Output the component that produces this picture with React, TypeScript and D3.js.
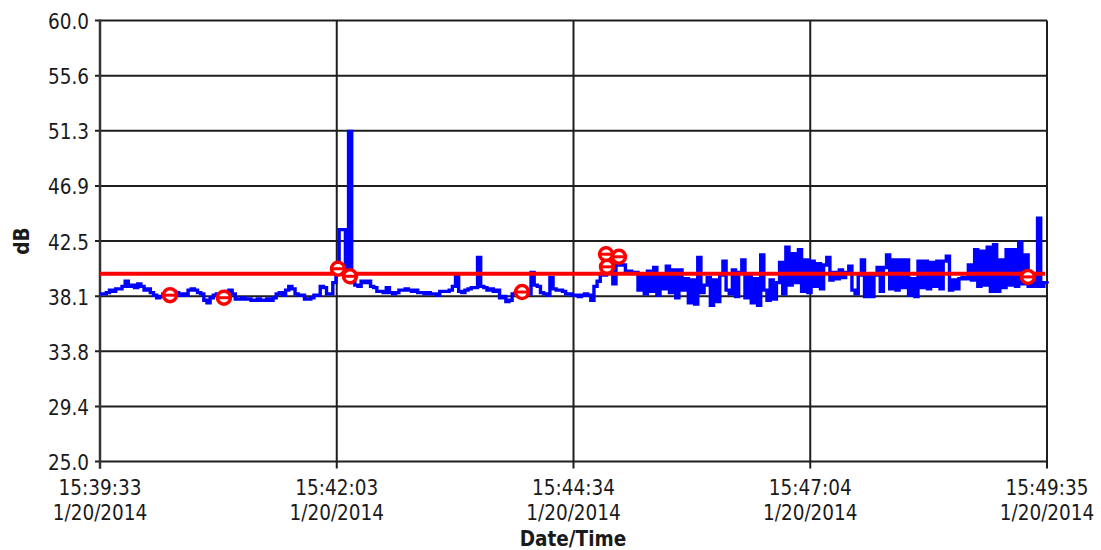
import * as d3 from 'd3';

// chart values
const startTime = new Date(2014, 0, 20, 15, 39, 33);
const sampleStepSec = 2;
const totalSec = 602;

// one reading every 2 s, starting 15:39:33
const dbValues = [
  38.3, 38.3, 38.4, 38.6, 38.5, 38.7, 38.7, 38.9, 39.3, 38.9,
  39.0, 38.8, 39.1, 38.9, 38.6, 38.7, 38.4, 38.2, 38.0, 38.1,
  38.3, 38.2, 38.4, 38.5, 38.4, 38.2, 38.3, 38.2, 38.6, 38.7,
  38.6, 38.4, 38.3, 37.8, 37.6, 38.0, 38.2, 38.3, 38.1, 38.4,
  38.5, 38.6, 38.3, 37.9, 37.9, 38.0, 37.9, 37.9, 37.8, 37.8,
  37.9, 37.8, 37.8, 37.9, 37.8, 38.0, 38.3, 38.4, 38.2, 38.6,
  38.9, 38.7, 38.3, 38.2, 38.2, 37.9, 37.9, 38.0, 38.2, 38.2,
  38.9, 38.8, 38.3, 38.3, 39.2, 40.4, 43.4, 43.4, 39.8, 51.2,
  39.2, 39.0, 38.9, 39.3, 39.2, 39.3, 38.9, 38.8, 38.5, 38.5,
  38.4, 38.8, 38.4, 38.3, 38.4, 38.6, 38.6, 38.7, 38.6, 38.5,
  38.6, 38.4, 38.4, 38.3, 38.4, 38.3, 38.3, 38.2, 38.5, 38.5,
  38.5, 38.6, 38.9, 39.7, 38.5, 38.4, 38.6, 38.7, 38.8, 38.8,
  41.2, 38.9, 38.8, 38.6, 38.7, 38.5, 38.6, 38.0, 38.1, 37.7,
  37.8, 38.3, 38.4, 38.5, 38.4, 38.5, 38.3, 40.0, 39.0, 38.9,
  38.4, 38.3, 38.2, 39.6, 38.7, 38.6, 38.6, 38.5, 38.3, 38.3,
  38.2, 38.2, 38.1, 38.2, 38.3, 38.2, 37.8, 38.9, 39.3, 39.8,
  39.8, 40.2, 40.6, 39.1, 40.6, 40.6, 40.6, 40.0, 40.1, 40.0,
  40.0, 38.6, 39.9, 38.3, 40.1, 38.5, 40.4, 38.2, 39.8, 38.7,
  40.5, 38.4, 40.2, 38.0, 40.2, 38.6, 39.5, 37.6, 39.4, 37.5,
  41.2, 38.4, 39.0, 39.6, 37.4, 39.4, 37.7, 39.8, 40.9, 38.6,
  38.3, 40.2, 38.1, 40.0, 41.0, 38.0, 39.7, 37.6, 39.5, 37.4,
  41.4, 38.6, 37.8, 39.4, 37.9, 39.2, 40.8, 38.3, 42.0, 39.0,
  41.5, 39.2, 41.8, 38.5, 41.0, 38.4, 40.9, 38.9, 40.7, 38.7,
  40.6, 41.2, 39.4, 40.0, 39.5, 40.2, 39.6, 40.0, 40.5, 38.6,
  38.3, 39.8, 41.0, 38.1, 39.9, 38.1, 39.8, 40.4, 38.5, 40.4,
  41.4, 38.7, 41.0, 38.6, 41.0, 38.8, 41.0, 38.2, 39.5, 38.1,
  40.9, 38.8, 40.9, 38.7, 40.8, 38.9, 40.9, 38.7, 40.9, 41.3,
  38.6, 39.4, 38.7, 39.5, 39.6, 39.5, 40.6, 39.4, 41.8, 38.9,
  41.7, 39.0, 42.0, 38.5, 42.2, 38.5, 41.0, 38.8, 41.8, 39.0,
  41.8, 38.9, 42.4, 39.1, 41.4, 38.9, 39.5, 38.9, 44.3, 38.9,
  39.2, 39.1,
];

const thresholdDb = 39.9;

// flagged events: seconds after start, level
const markerSec = [44.5, 78.8, 151.3, 158.9, 268.3, 321.7, 329.9, 322.3, 589.9];
const markerDb = [38.2, 38.0, 40.3, 39.7, 38.45, 41.45, 41.25, 40.45, 39.65];

const yTickValues = [25.0, 29.375, 33.75, 38.125, 42.5, 46.875, 51.25, 55.625, 60.0];
const xTickSec = [0, 150.5, 301, 451.5, 602];

const FONT = "'DejaVu Sans Condensed', 'DejaVu Sans', sans-serif";
const TEXT = '#1a1a1a';

export default function App() {
  const width = 1101;
  const height = 550;
  const left = 100;
  const right = 1047;
  const top = 20.5;
  const bottom = 461.5;

  const toDate = (s: number) => new Date(startTime.getTime() + s * 1000);

  const x = d3.scaleTime().domain([startTime, toDate(totalSec)]).range([left, right]);
  const y = d3.scaleLinear().domain([25, 60]).range([bottom, top]);

  const series = dbValues.map((v, i) => ({ t: toDate(i * sampleStepSec), v }));
  const line = d3.line<{ t: Date; v: number }>()
    .x(d => x(d.t))
    .y(d => y(d.v))
    .curve(d3.curveStepAfter);

  const fmtTime = d3.timeFormat('%H:%M:%S');
  const fmtDate = (d: Date) => `${d.getMonth() + 1}/${d.getDate()}/${d.getFullYear()}`;

  return (
    <svg width={width} height={height} style={{ position: 'absolute', left: 0, top: 0, background: '#fff' }}
      fontFamily={FONT} fontStretch="condensed">
      {/* horizontal grid + y ticks */}
      {yTickValues.map(v => (
        <g key={'y' + v}>
          <line x1={left - 5} x2={right} y1={y(v)} y2={y(v)} stroke="#1e1e1e" strokeWidth={2} />
          <text x={89} y={y(v) + 8.5} textAnchor="end" fontSize={20.5} fill={TEXT}>{v.toFixed(1)}</text>
        </g>
      ))}
      {/* vertical grid + x ticks */}
      {xTickSec.map(s => {
        const d = toDate(s);
        return (
          <g key={'x' + s}>
            <line x1={x(d)} x2={x(d)} y1={top} y2={bottom + 7} stroke="#1e1e1e" strokeWidth={2} />
            <text x={x(d)} y={495} textAnchor="middle" fontSize={20.5} fill={TEXT}>{fmtTime(d)}</text>
            <text x={x(d)} y={520} textAnchor="middle" fontSize={20.5} fill={TEXT}>{fmtDate(d)}</text>
          </g>
        );
      })}
      <line x1={left} x2={left} y1={top - 1} y2={bottom + 7} stroke="#333" strokeWidth={2.5} />

      <path d={line(series) ?? ''} fill="none" stroke="#0000ff" strokeWidth={3.4} />

      <line x1={x(startTime)} x2={x(toDate(totalSec)) - 2} y1={y(thresholdDb)} y2={y(thresholdDb)}
        stroke="#ff0000" strokeWidth={4} />

      {markerSec.map((s, i) => {
        const cx = x(toDate(s));
        const cy = y(markerDb[i]);
        return (
          <g key={'m' + i}>
            <circle cx={cx} cy={cy} r={6.5} fill="#fff" stroke="#ff0000" strokeWidth={3.5} />
            <line x1={cx - 6.5} x2={cx + 6.5} y1={cy} y2={cy} stroke="#ff0000" strokeWidth={3} />
          </g>
        );
      })}

      <text x={573} y={546} textAnchor="middle" fontSize={20.5} fontWeight="bold" fill={TEXT}>Date/Time</text>
      <text transform={`translate(29,${(top + bottom) / 2}) rotate(-90)`} textAnchor="middle" fontSize={20.5}
        fontWeight="bold" fill={TEXT}>dB</text>
    </svg>
  );
}
